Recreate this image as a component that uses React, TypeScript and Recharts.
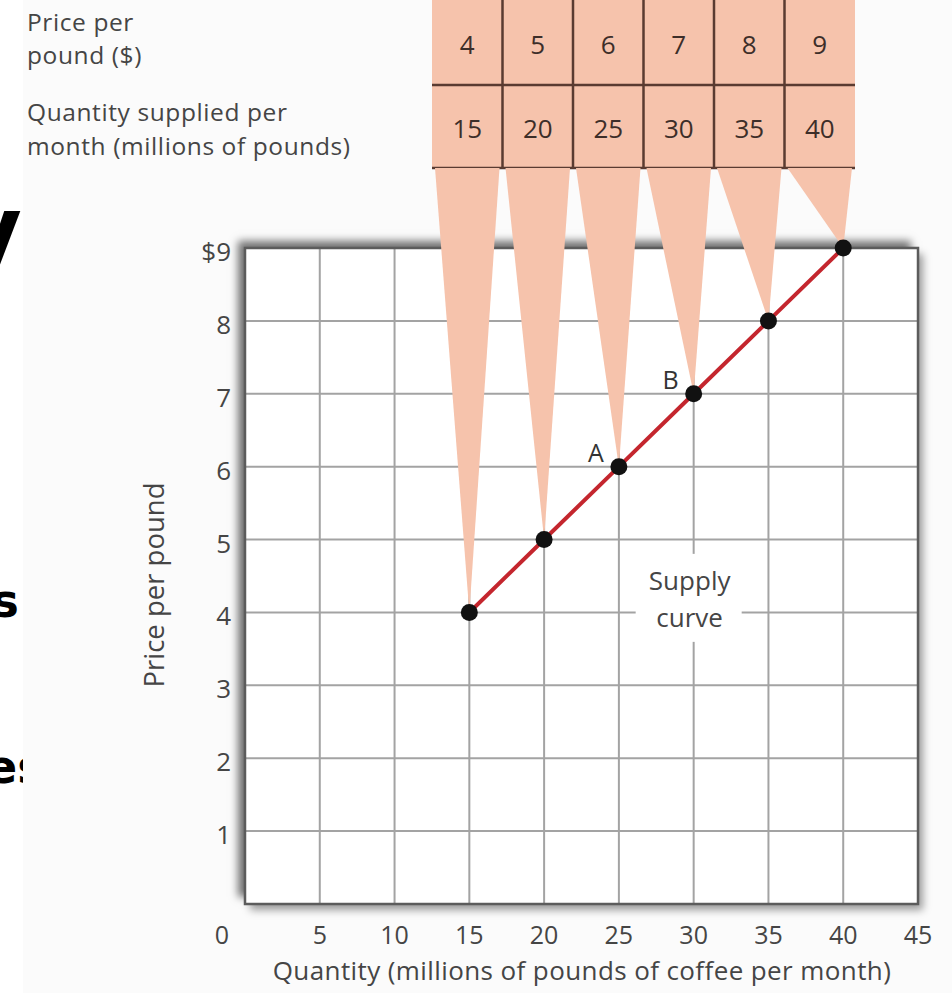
import React from 'react'
import {
  ComposedChart,
  Line,
  Scatter,
  XAxis,
  YAxis,
  CartesianGrid,
  ReferenceDot,
  ReferenceArea,
  LabelList,
} from 'recharts'

// supply schedule
const prices = [4, 5, 6, 7, 8, 9]
const quantities = [15, 20, 25, 30, 35, 40]
const pointNames = ['', '', 'A', 'B', '', '']

const xTicks = [0, 5, 10, 15, 20, 25, 30, 35, 40, 45]
const yTicks = [0, 1, 2, 3, 4, 5, 6, 7, 8, 9]
const yTickLabels = ['', '1', '2', '3', '4', '5', '6', '7', '8', '$9']

const data = quantities.map((q, i) => ({ q, p: prices[i], name: pointNames[i], idx: i }))

const W = 952
const H = 993
const PLOT_LEFT = 245
const PLOT_TOP = 248
const PLOT_RIGHT = 918
const PLOT_BOTTOM = 904

const TABLE_LEFT = 432
const CELL_W = 70.5
const ROW_LINE = 85
const TABLE_BOTTOM = 168

const FONT = '"Open Sans", sans-serif'
const TEXT = '#454545'
const SALMON = '#f6c3ac'
const RED = '#c4262e'

function XTick(props: any) {
  const { x, payload } = props
  const shift = payload.value === 0 ? -23 : 0
  return (
    <text x={x + shift} y={PLOT_BOTTOM + 30} textAnchor="middle" dominantBaseline="central"
      fontFamily={FONT} fontSize={25} fill={TEXT}>
      {payload.value}
    </text>
  )
}

function YTick(props: any) {
  const { y, payload } = props
  return (
    <text x={PLOT_LEFT - 14} y={y + 3} textAnchor="end" dominantBaseline="central"
      fontFamily={FONT} fontSize={26} fill={TEXT}>
      {yTickLabels[yTicks.indexOf(payload.value)]}
    </text>
  )
}

function Wedge(props: any) {
  const { cx, cy, payload } = props
  const i = payload.idx
  const l = TABLE_LEFT + i * CELL_W + 3
  const r = TABLE_LEFT + (i + 1) * CELL_W - 3
  return <path d={`M${l},${TABLE_BOTTOM} L${r},${TABLE_BOTTOM} L${cx},${cy} Z`} fill={SALMON} />
}

function Dot(props: any) {
  const { cx, cy, index } = props
  return <circle key={`d${index}`} cx={cx} cy={cy} r={8.5} fill="#111" />
}

function PointName(props: any) {
  const { x, y, value } = props
  if (!value) return null
  return (
    <text x={x - 23} y={y - 15} textAnchor="middle" dominantBaseline="central"
      fontFamily={FONT} fontSize={25} fill="#333">
      {value}
    </text>
  )
}

function SupplyLabel(props: any) {
  const { cx, cy } = props
  return (
    <g>
      <rect x={cx - 58} y={cy - 44} width={106} height={88} fill="#fff" />
      <text x={cx - 4} y={cy - 8} textAnchor="middle" fontFamily={FONT} fontSize={26} fill={TEXT}>Supply</text>
      <text x={cx - 4} y={cy + 29} textAnchor="middle" fontFamily={FONT} fontSize={26} fill={TEXT}>curve</text>
    </g>
  )
}

export default function App() {
  return (
    <div style={{ position: 'absolute', left: 0, top: 0, width: W, height: H, overflow: 'hidden', background: '#fff' }}>
      <svg width={W} height={H} style={{ position: 'absolute', left: 0, top: 0 }}>
        {/* slide text peeking out behind the picture */}
        <text x={22} y={262} textAnchor="end" fontFamily='"DejaVu Sans", sans-serif' fontWeight={700} fontSize={92} fill="#000">y</text>
        <text x={19} y={617} textAnchor="end" fontFamily='"DejaVu Sans", sans-serif' fontWeight={700} fontSize={46} fill="#000">rs</text>
        <text x={-14} y={783} fontFamily='"DejaVu Sans", sans-serif' fontWeight={700} fontSize={46} fill="#000">es</text>
        <rect x={23} y={0} width={W - 23} height={H} fill="#fbfbfb" />

        <g fontFamily={FONT} fontSize={24.5} fill={TEXT} letterSpacing={0.6}>
          <text x={27} y={31}>Price per</text>
          <text x={27} y={64}>pound ($)</text>
          <text x={27} y={121}>Quantity supplied per</text>
          <text x={27} y={155}>month (millions of pounds)</text>
        </g>

        {prices.map((p, i) => (
          <rect key={`c${i}`} x={TABLE_LEFT + i * CELL_W} y={-5} width={CELL_W} height={TABLE_BOTTOM + 5} fill={SALMON} />
        ))}
        <line x1={TABLE_LEFT} x2={TABLE_LEFT + 6 * CELL_W} y1={ROW_LINE} y2={ROW_LINE} stroke="#5a3b31" strokeWidth={2.5} />
        <line x1={TABLE_LEFT} x2={TABLE_LEFT + 6 * CELL_W} y1={TABLE_BOTTOM} y2={TABLE_BOTTOM} stroke="#5a3b31" strokeWidth={2.5} />
        {[1, 2, 3, 4, 5].map((k) => (
          <line key={`v${k}`} x1={TABLE_LEFT + k * CELL_W} x2={TABLE_LEFT + k * CELL_W} y1={0} y2={TABLE_BOTTOM} stroke="#5a3b31" strokeWidth={2.5} />
        ))}
        {prices.map((p, i) => (
          <text key={`pt${i}`} x={TABLE_LEFT + (i + 0.5) * CELL_W} y={44} textAnchor="middle" dominantBaseline="central"
            fontFamily={FONT} fontSize={26} fill="#3d2e29">{p}</text>
        ))}
        {quantities.map((q, i) => (
          <text key={`qt${i}`} x={TABLE_LEFT + (i + 0.5) * CELL_W} y={128} textAnchor="middle" dominantBaseline="central"
            fontFamily={FONT} fontSize={26} fill="#3d2e29">{q}</text>
        ))}

        <text x={164} y={585} transform="rotate(-90 164 585)" textAnchor="middle" fontFamily={FONT} fontSize={27.5} fill={TEXT}>
          Price per pound
        </text>
        <text x={582} y={980} textAnchor="middle" fontFamily={FONT} fontSize={26} letterSpacing={0.4} fill={TEXT}>
          Quantity (millions of pounds of coffee per month)
        </text>
      </svg>

      <div
        style={{
          position: 'absolute',
          left: PLOT_LEFT,
          top: PLOT_TOP,
          width: PLOT_RIGHT - PLOT_LEFT,
          height: PLOT_BOTTOM - PLOT_TOP,
          background: '#fff',
          boxShadow: '-7px -7px 8px rgba(0,0,0,0.55), 5px 6px 8px rgba(0,0,0,0.38)',
        }}
      />

      <div style={{ position: 'absolute', left: 0, top: 0 }}>
        <ComposedChart
          width={W}
          height={H}
          data={data}
          margin={{ top: PLOT_TOP, right: W - PLOT_RIGHT, bottom: 0, left: 0 }}
        >
          <CartesianGrid stroke="#a3a3a3" strokeWidth={2} />
          <XAxis
            type="number"
            dataKey="q"
            domain={[0, 45]}
            ticks={xTicks}
            interval={0}
            axisLine={false}
            tickLine={false}
            height={H - PLOT_BOTTOM}
            tick={<XTick />}
          />
          <YAxis
            type="number"
            dataKey="p"
            domain={[0, 9]}
            ticks={yTicks}
            interval={0}
            axisLine={false}
            tickLine={false}
            width={PLOT_LEFT}
            tick={<YTick />}
          />
          <ReferenceArea x1={0} x2={45} y1={0} y2={9} fill="none" stroke="#5c5c5c" strokeWidth={2.5} ifOverflow="visible" />
          <ReferenceDot x={30} y={4.2} r={0} shape={<SupplyLabel />} />
          <Scatter data={data} dataKey="p" shape={<Wedge />} isAnimationActive={false} />
          <Line
            type="linear"
            dataKey="p"
            stroke={RED}
            strokeWidth={4}
            dot={Dot}
            activeDot={false}
            isAnimationActive={false}
          >
            <LabelList dataKey="name" content={<PointName />} />
          </Line>
        </ComposedChart>
      </div>
    </div>
  )
}
